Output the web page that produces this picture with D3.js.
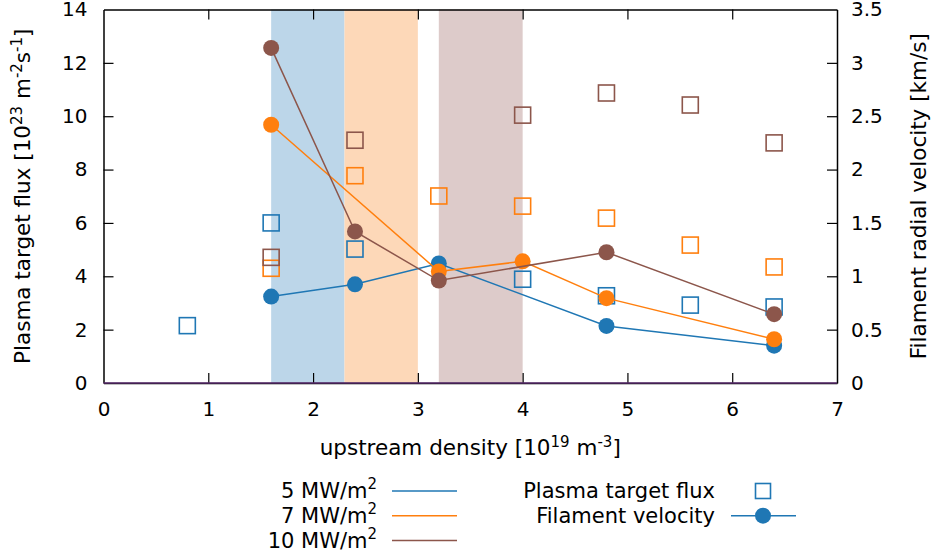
<!DOCTYPE html>
<html>
<head>
<meta charset="utf-8">
<script src="https://cdn.jsdelivr.net/npm/d3@7"></script>
<style>
  body { margin: 0; background: #fff; }
  text { font-family: "DejaVu Sans", sans-serif; fill: #000; }
</style>
</head>
<body>
<svg id="chart" width="931" height="559"></svg>
<script>
// data
const powers = ["5", "7", "10"];
const colors = ["#1f77b4", "#ff7f0e", "#8c564b"];
const bandColors = ["#bcd6e9", "#fdd8b8", "#ddcbca"];
const bandStart = [1.6, 2.3, 3.2];
const bandEnd = [2.3, 3.0, 4.0];

// plasma target flux (left axis)
const fluxX5 = [0.8, 1.6, 2.4, 4.0, 4.8, 5.6, 6.4];
const flux5 = [2.15, 6.0, 5.02, 3.89, 3.27, 2.92, 2.85];
const fluxX7 = [1.6, 2.4, 3.2, 4.0, 4.8, 5.6, 6.4];
const flux7 = [4.30, 7.77, 7.01, 6.63, 6.18, 5.17, 4.35];
const fluxX10 = [1.6, 2.4, 4.0, 4.8, 5.6, 6.4];
const flux10 = [4.71, 9.1, 10.04, 10.87, 10.42, 9.0];

// filament velocity (right axis)
const velX5 = [1.6, 2.4, 3.2, 4.8, 6.4];
const vel5 = [0.81, 0.925, 1.12, 0.535, 0.35];
const velX7 = [1.6, 3.2, 4.0, 4.8, 6.4];
const vel7 = [2.42, 1.045, 1.14, 0.795, 0.41];
const velX10 = [1.6, 2.4, 3.2, 4.8, 6.4];
const vel10 = [3.14, 1.42, 0.96, 1.225, 0.645];

const xTicks = [0, 1, 2, 3, 4, 5, 6, 7];
const yLeftTicks = [0, 2, 4, 6, 8, 10, 12, 14];
const yRightTicks = [0, 0.5, 1, 1.5, 2, 2.5, 3, 3.5];

const fluxSets = [[fluxX5, flux5], [fluxX7, flux7], [fluxX10, flux10]];
const velSets = [[velX5, vel5], [velX7, vel7], [velX10, vel10]];

const svg = d3.select("#chart");
const L = 103.5, R = 837, T = 9.5, B = 383;

const x = d3.scaleLinear().domain([0, 7]).range([L, R]);
const yL = d3.scaleLinear().domain([0, 14]).range([B, T]);
const yR = d3.scaleLinear().domain([0, 3.5]).range([B, T]);

// shaded bands
svg.append("g").selectAll("rect")
  .data(bandStart)
  .join("rect")
  .attr("x", (d, i) => x(d))
  .attr("width", (d, i) => x(bandEnd[i]) - x(d))
  .attr("y", T)
  .attr("height", B - T)
  .attr("fill", (d, i) => bandColors[i]);

// axes (ticks inward, gnuplot-ish)
const tickLen = 10;
const plain = d3.format("");
const axB = svg.append("g").attr("transform", `translate(0,${B})`)
  .call(d3.axisBottom(x).tickValues(xTicks).tickSizeInner(-tickLen).tickSizeOuter(0).tickPadding(tickLen + 9).tickFormat(plain));
const axT = svg.append("g").attr("transform", `translate(0,${T})`)
  .call(d3.axisTop(x).tickValues(xTicks).tickSizeInner(-tickLen).tickSizeOuter(0).tickFormat(""));
const axL = svg.append("g").attr("transform", `translate(${L},0)`)
  .call(d3.axisLeft(yL).tickValues(yLeftTicks).tickSizeInner(-tickLen).tickSizeOuter(0).tickPadding(tickLen + 6).tickFormat(plain));
const axR = svg.append("g").attr("transform", `translate(${R},0)`)
  .call(d3.axisRight(yR).tickValues(yRightTicks).tickSizeInner(-tickLen).tickSizeOuter(0).tickPadding(tickLen + 4).tickFormat(plain));

[axB, axT, axL, axR].forEach(a => {
  a.select(".domain").attr("stroke", "#000").attr("stroke-width", 1.5);
  a.selectAll(".tick line").attr("stroke", "#000").attr("stroke-width", 1.2);
  a.selectAll(".tick text").attr("font-size", 20).attr("font-family", "DejaVu Sans, sans-serif").attr("fill", "#000");
});
// hide edge ticks that sit on the frame
axB.selectAll(".tick").filter(d => d === 0 || d === 7).select("line").remove();
axT.selectAll(".tick").filter(d => d === 0 || d === 7).select("line").remove();
axL.selectAll(".tick").filter(d => d === 0 || d === 14).select("line").remove();
axR.selectAll(".tick").filter(d => d === 0 || d === 3.5).select("line").remove();

// zero line
svg.append("line")
  .attr("x1", L).attr("x2", R)
  .attr("y1", yL(0)).attr("y2", yL(0))
  .attr("stroke", "#5a2d6e").attr("stroke-width", 1.5);

// flux squares
const sq = 16;
fluxSets.forEach(([xs, ys], k) => {
  svg.append("g").selectAll("rect")
    .data(xs.map((d, i) => [d, ys[i]]))
    .join("rect")
    .attr("x", d => x(d[0]) - sq / 2)
    .attr("y", d => yL(d[1]) - sq / 2)
    .attr("width", sq).attr("height", sq)
    .attr("fill", "none")
    .attr("stroke", colors[k])
    .attr("stroke-width", 1.6);
});

// velocity lines + circles
const line = d3.line().x(d => x(d[0])).y(d => yR(d[1]));
velSets.forEach(([xs, vs], k) => {
  const pts = xs.map((d, i) => [d, vs[i]]);
  svg.append("path")
    .attr("d", line(pts))
    .attr("fill", "none")
    .attr("stroke", colors[k])
    .attr("stroke-width", 1.5);
  svg.append("g").selectAll("circle")
    .data(pts)
    .join("circle")
    .attr("cx", d => x(d[0]))
    .attr("cy", d => yR(d[1]))
    .attr("r", 8)
    .attr("fill", colors[k]);
});

// axis titles
const tfs = 21.5, sfs = 15;
const xt = svg.append("text")
  .attr("x", (L + R) / 2).attr("y", 455)
  .attr("text-anchor", "middle").attr("font-size", tfs);
xt.append("tspan").text("upstream density [10");
xt.append("tspan").attr("dy", -8).attr("font-size", sfs).text("19");
xt.append("tspan").attr("dy", 8).text(" m");
xt.append("tspan").attr("dy", -8).attr("font-size", sfs).text("-3");
xt.append("tspan").attr("dy", 8).text("]");

const ylt = svg.append("text")
  .attr("transform", `translate(30,${(T + B) / 2}) rotate(-90)`)
  .attr("text-anchor", "middle").attr("font-size", tfs);
ylt.append("tspan").text("Plasma target flux [10");
ylt.append("tspan").attr("dy", -8).attr("font-size", sfs).text("23");
ylt.append("tspan").attr("dy", 8).text(" m");
ylt.append("tspan").attr("dy", -8).attr("font-size", sfs).text("-2");
ylt.append("tspan").attr("dy", 8).text("s");
ylt.append("tspan").attr("dy", -8).attr("font-size", sfs).text("-1");
ylt.append("tspan").attr("dy", 8).text("]");

svg.append("text")
  .attr("transform", `translate(926,${(T + B) / 2}) rotate(-90)`)
  .attr("text-anchor", "middle").attr("font-size", tfs)
  .text("Filament radial velocity [km/s]");

// legend: power levels
const lfs = 21;
const lg = svg.append("g");
powers.forEach((p, i) => {
  const yy = 491 + i * 24.8;
  const t = lg.append("text")
    .attr("x", 377).attr("y", yy + 7)
    .attr("text-anchor", "end").attr("font-size", lfs);
  t.append("tspan").text(`${p} MW/m`);
  t.append("tspan").attr("dy", -9).attr("font-size", 15).text("2");
  lg.append("line")
    .attr("x1", 392).attr("x2", 457)
    .attr("y1", yy).attr("y2", yy)
    .attr("stroke", colors[i]).attr("stroke-width", 1.5);
});

// legend: marker types
lg.append("text")
  .attr("x", 715).attr("y", 498)
  .attr("text-anchor", "end").attr("font-size", lfs)
  .text("Plasma target flux");
lg.append("rect")
  .attr("x", 763 - 7.5).attr("y", 491 - 7.5)
  .attr("width", 15).attr("height", 15)
  .attr("fill", "none").attr("stroke", colors[0]).attr("stroke-width", 1.6);
lg.append("text")
  .attr("x", 715).attr("y", 523)
  .attr("text-anchor", "end").attr("font-size", lfs)
  .text("Filament velocity");
lg.append("line")
  .attr("x1", 731).attr("x2", 796)
  .attr("y1", 515.7).attr("y2", 515.7)
  .attr("stroke", colors[0]).attr("stroke-width", 1.5);
lg.append("circle")
  .attr("cx", 763).attr("cy", 515.7).attr("r", 8)
  .attr("fill", colors[0]);
</script>
</body>
</html>
